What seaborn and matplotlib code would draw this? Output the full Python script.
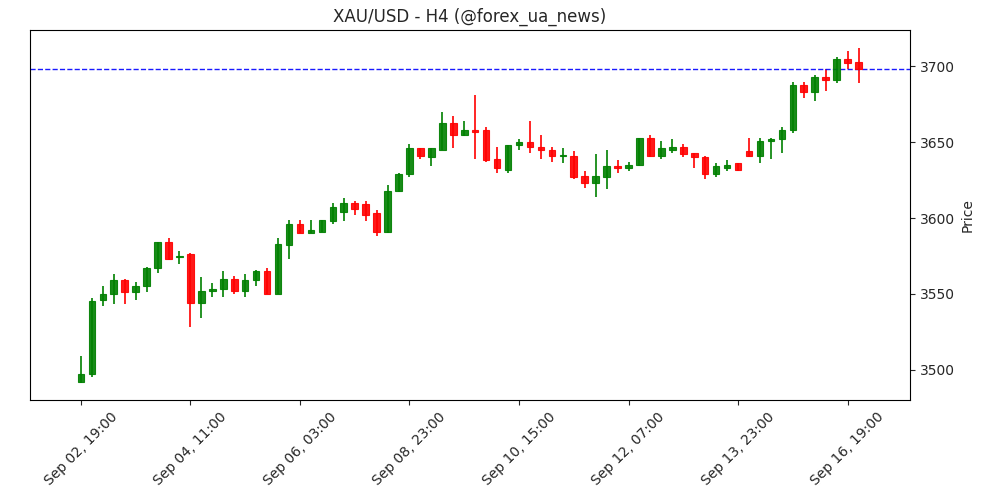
import numpy as np
import pandas as pd
import matplotlib
matplotlib.use("Agg")
import matplotlib.pyplot as plt
import seaborn as sns

# H4 candles
opens = [3492, 3497, 3546, 3550, 3559, 3551, 3555, 3567, 3584, 3574,
         3576, 3544, 3552, 3553, 3560, 3552, 3559, 3565, 3550, 3582,
         3596, 3590, 3591, 3598, 3604, 3610, 3609, 3603, 3591, 3618,
         3629, 3646, 3640, 3645, 3663, 3655, 3658, 3658, 3639, 3632,
         3648, 3650, 3647, 3645, 3641, 3641, 3628, 3623, 3627, 3634,
         3633, 3635, 3653, 3641, 3645, 3647, 3643, 3640, 3629, 3633,
         3636, 3644, 3641, 3651, 3652, 3658, 3688, 3683, 3693, 3691,
         3705, 3703]
highs = [3509, 3547, 3555, 3563, 3560, 3558, 3568, 3584, 3587, 3578,
         3577, 3561, 3557, 3565, 3562, 3563, 3566, 3567, 3587, 3599,
         3599, 3599, 3599, 3610, 3613, 3611, 3611, 3605, 3622, 3630,
         3649, 3646, 3646, 3670, 3667, 3664, 3681, 3660, 3647, 3648,
         3652, 3664, 3655, 3647, 3646, 3644, 3631, 3642, 3645, 3638,
         3637, 3653, 3655, 3651, 3652, 3649, 3643, 3641, 3636, 3638,
         3636, 3653, 3653, 3653, 3660, 3690, 3690, 3694, 3698, 3706,
         3710, 3712]
lows = [3491, 3495, 3542, 3543, 3543, 3546, 3551, 3564, 3572, 3570,
        3528, 3534, 3548, 3548, 3550, 3548, 3555, 3550, 3550, 3573,
        3590, 3590, 3591, 3596, 3598, 3602, 3598, 3588, 3590, 3617,
        3627, 3639, 3634, 3645, 3646, 3654, 3639, 3637, 3630, 3630,
        3645, 3643, 3639, 3637, 3636, 3626, 3620, 3614, 3619, 3630,
        3631, 3634, 3640, 3639, 3643, 3640, 3633, 3626, 3627, 3631,
        3631, 3640, 3636, 3639, 3643, 3656, 3679, 3677, 3684, 3689,
        3698, 3689]
closes = [3497, 3545, 3550, 3559, 3551, 3555, 3567, 3584, 3573, 3575,
          3544, 3552, 3553, 3560, 3552, 3559, 3565, 3550, 3583, 3596,
          3590, 3592, 3599, 3607, 3610, 3606, 3602, 3591, 3618, 3629,
          3646, 3641, 3646, 3663, 3655, 3658, 3657, 3638, 3633, 3648,
          3650, 3647, 3645, 3641, 3641, 3627, 3623, 3628, 3634, 3633,
          3635, 3653, 3641, 3646, 3647, 3642, 3640, 3629, 3634, 3635,
          3632, 3641, 3651, 3652, 3658, 3688, 3683, 3693, 3691, 3705,
          3702, 3698]
tick_labels = ["Sep 02, 19:00", "Sep 04, 11:00", "Sep 06, 03:00", "Sep 08, 23:00",
               "Sep 10, 15:00", "Sep 12, 07:00", "Sep 13, 23:00", "Sep 16, 19:00"]
level = 3698

df = pd.DataFrame({"open": opens, "high": highs, "low": lows, "close": closes})
df["idx"] = np.arange(len(df))
df["up"] = df["close"] >= df["open"]

sns.set_style("ticks")
plt.rcParams["font.family"] = ["DejaVu Sans"]

fig, ax = plt.subplots(figsize=(10, 5), dpi=100)
fig.subplots_adjust(left=0.03, right=0.91, top=0.94, bottom=0.2)

colors = np.where(df["up"], "green", "red")
ax.vlines(df["idx"], df["low"], df["high"], colors=colors, linewidth=1.2, zorder=2)
body_bottom = df[["open", "close"]].min(axis=1)
body_height = (df["close"] - df["open"]).abs().clip(lower=0.6)
ax.bar(df["idx"], body_height, bottom=body_bottom, width=0.6, color=colors,
       edgecolor=colors, linewidth=0.8, alpha=0.9, zorder=3)

ax.axhline(level, color="blue", linestyle="--", linewidth=1, alpha=0.9)

ax.set_xlim(-4.65, 75.7)
ax.set_ylim(3480, 3724)
ax.set_xticks(np.arange(0, 80, 10))
ax.set_xticklabels(tick_labels, rotation=45, ha="center")
ax.set_yticks(np.arange(3500, 3701, 50))
ax.yaxis.tick_right()
ax.yaxis.set_label_position("right")
ax.set_ylabel("Price")
ax.set_title("XAU/USD - H4 (@forex_ua_news)")
for s in ax.spines.values():
    s.set_visible(True)
    s.set_color("black")
    s.set_linewidth(0.8)

fig.savefig("out.png", dpi=100)
